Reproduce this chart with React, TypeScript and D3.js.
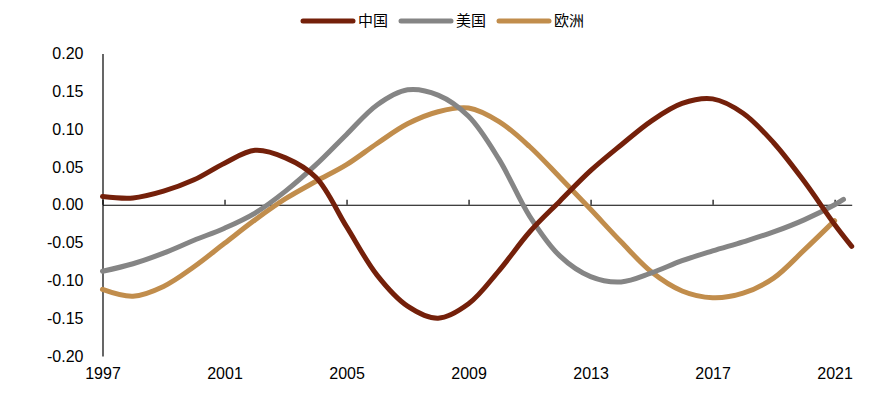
import { useEffect, useRef } from 'react'
import * as d3 from 'd3'

// yearly points, last point of each series sits slightly past 2021
const years = [1997, 1998, 1999, 2000, 2001, 2002, 2003, 2004, 2005, 2006, 2007, 2008, 2009,
  2010, 2011, 2012, 2013, 2014, 2015, 2016, 2017, 2018, 2019, 2020, 2021]

const chinaYears = [...years, 2021.56]
const china = [0.011, 0.009, 0.018, 0.033, 0.055, 0.072, 0.062, 0.036, -0.029, -0.093, -0.134, -0.15, -0.131,
  -0.087, -0.036, 0.005, 0.045, 0.079, 0.111, 0.134, 0.14, 0.121, 0.082, 0.031, -0.026, -0.055]

const usYears = [...years, 2021.29]
const us = [-0.088, -0.078, -0.064, -0.047, -0.031, -0.011, 0.018, 0.053, 0.093, 0.132, 0.152, 0.145, 0.117,
  0.06, -0.015, -0.068, -0.095, -0.102, -0.09, -0.074, -0.061, -0.049, -0.036, -0.02, 0.0, 0.007]

const euYears = [...years]
const eu = [-0.112, -0.121, -0.108, -0.082, -0.051, -0.02, 0.008, 0.031, 0.053, 0.081, 0.107, 0.123, 0.128,
  0.11, 0.077, 0.036, -0.006, -0.049, -0.089, -0.114, -0.123, -0.117, -0.097, -0.06, -0.021]

const xTicks = [1997, 2001, 2005, 2009, 2013, 2017, 2021]
const yTicks = [-0.2, -0.15, -0.1, -0.05, 0, 0.05, 0.1, 0.15, 0.2]

const seriesNames = ['中国', '美国', '欧洲']
const seriesColors = ['#74200a', '#858585', '#c18d4c']

export default function App() {
  const svgRef = useRef<SVGSVGElement>(null)

  useEffect(() => {
    if (!svgRef.current) return
    const svg = d3.select(svgRef.current)
    svg.selectAll('*').remove()

    const font = '"Liberation Sans", Arial, sans-serif'

    const x = d3.scaleLinear().domain([1997, 2021.56]).range([102.5, 851.7])
    const y = d3.scaleLinear().domain([-0.2, 0.2]).range([356, 53.5])

    // y axis, no tick marks
    const yAxis = svg.append('g')
      .attr('transform', 'translate(102.5,0)')
      .call(d3.axisLeft(y).tickValues(yTicks).tickSize(0).tickPadding(19)
        .tickFormat(d => (+d).toFixed(2)))
    yAxis.select('.domain').attr('stroke', '#000').attr('stroke-width', 1.2)
    yAxis.selectAll('text')
      .attr('font-family', font)
      .attr('font-size', 16)
      .attr('fill', '#000')

    // zero line with small upward ticks
    const zeroAxis = svg.append('g')
      .attr('transform', `translate(0,${y(0)})`)
      .call(d3.axisBottom(x).tickValues(xTicks).tickSize(-5).tickSizeOuter(0).tickFormat(() => ''))
    zeroAxis.select('.domain').attr('stroke', '#000').attr('stroke-width', 1.2)
    zeroAxis.selectAll('line').attr('stroke', '#000').attr('stroke-width', 1.2)

    // year labels at the bottom
    const labelAxis = svg.append('g')
      .attr('transform', 'translate(0,356)')
      .call(d3.axisBottom(x).tickValues(xTicks).tickSize(0).tickPadding(12).tickFormat(d3.format('d')))
    labelAxis.select('.domain').remove()
    labelAxis.selectAll('text')
      .attr('font-family', font)
      .attr('font-size', 16)
      .attr('fill', '#000')

    const line = d3.line<[number, number]>()
      .x(d => x(d[0]))
      .y(d => y(d[1]))
      .curve(d3.curveCatmullRom.alpha(0.5))

    const allSeries: [number, number][][] = [
      chinaYears.map((yr, i) => [yr, china[i]]),
      usYears.map((yr, i) => [yr, us[i]]),
      euYears.map((yr, i) => [yr, eu[i]]),
    ]

    // draw order: europe, us, china on top where they cross
    const order = [2, 1, 0]
    order.forEach(i => {
      svg.append('path')
        .datum(allSeries[i])
        .attr('d', line)
        .attr('fill', 'none')
        .attr('stroke', seriesColors[i])
        .attr('stroke-width', 5)
        .attr('stroke-linecap', 'round')
        .attr('stroke-linejoin', 'round')
    })

    // legend
    const legendX = [303, 401, 499]
    const legend = svg.append('g')
    seriesNames.forEach((name, i) => {
      legend.append('line')
        .attr('x1', legendX[i]).attr('x2', legendX[i] + 50)
        .attr('y1', 21).attr('y2', 21)
        .attr('stroke', seriesColors[i])
        .attr('stroke-width', 5)
        .attr('stroke-linecap', 'round')
      legend.append('text')
        .attr('x', legendX[i] + 55)
        .attr('y', 21)
        .attr('dy', '0.36em')
        .attr('font-family', '"Noto Sans CJK SC", sans-serif')
        .attr('font-size', 15)
        .attr('fill', '#000')
        .text(name)
    })
  }, [])

  return (
    <svg
      ref={svgRef}
      width={872}
      height={395}
      style={{ position: 'absolute', left: 0, top: 0, background: '#fff' }}
    />
  )
}
